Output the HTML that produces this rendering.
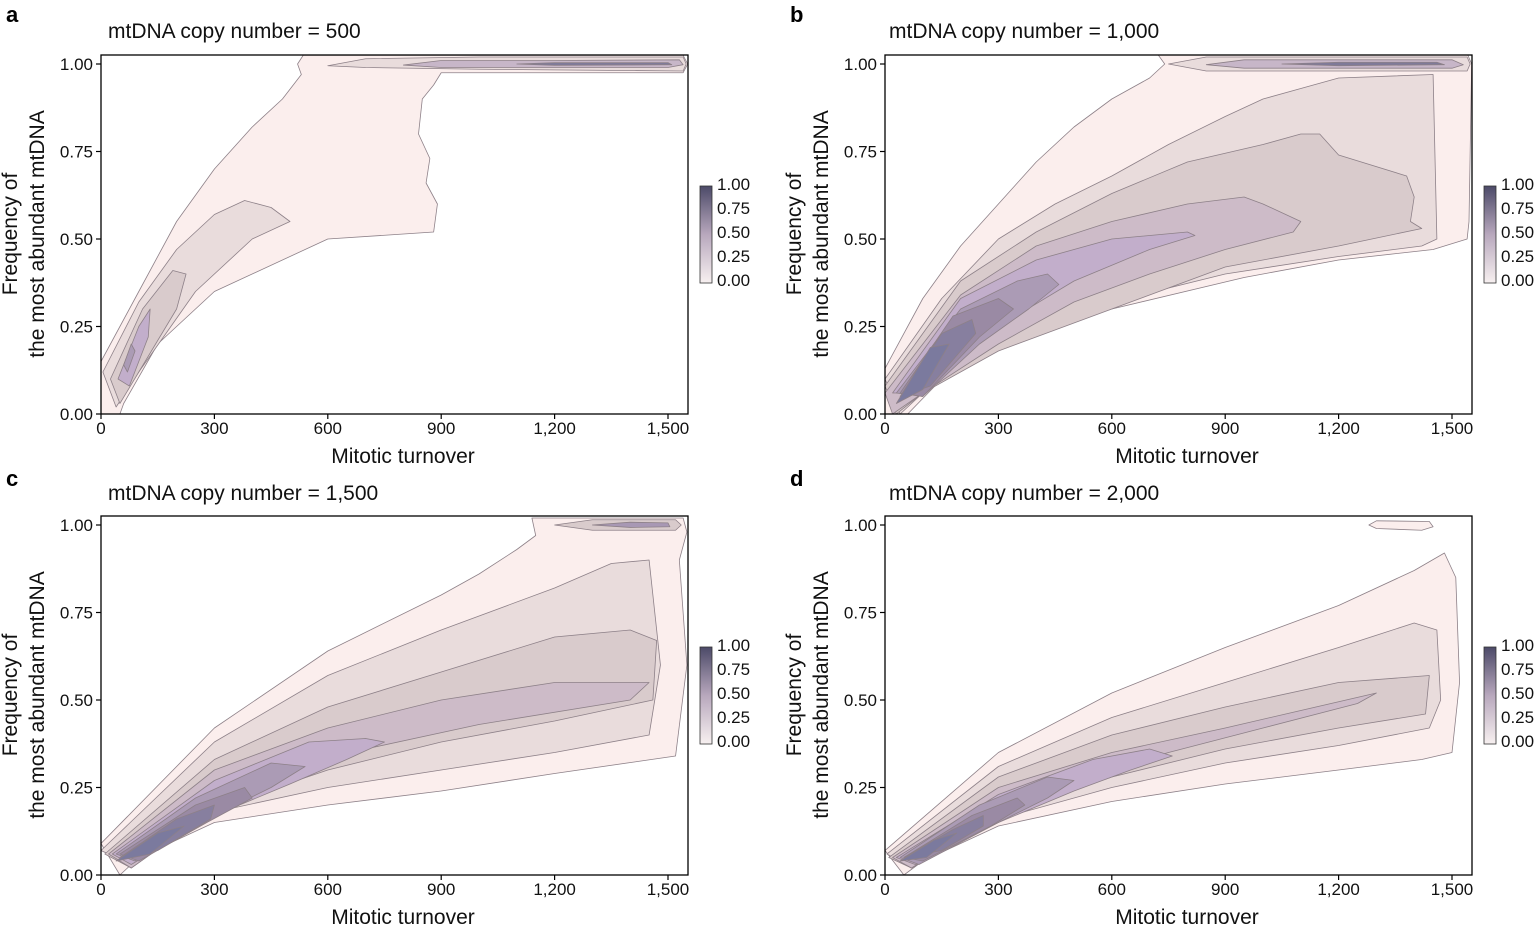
<!DOCTYPE html><html><head><style>body{margin:0;background:#fff}svg{display:block;font-family:"Liberation Sans",sans-serif}</style></head><body>
<svg width="1536" height="928" viewBox="0 0 1536 928" xmlns="http://www.w3.org/2000/svg">
<defs>
<clipPath id="pc"><rect x="0" y="-359" width="587" height="359"/></clipPath>
<linearGradient id="cb" x1="0" y1="1" x2="0" y2="0"><stop offset="0" stop-color="#f7f0f0"/><stop offset="0.5" stop-color="#b8a8bd"/><stop offset="1" stop-color="#4c4a68"/></linearGradient>
<style>.c polygon{stroke:#8d8088;stroke-width:0.8;vector-effect:non-scaling-stroke;stroke-linejoin:round}
.t{font-size:17px;fill:#111}.ti{font-size:21px;fill:#111}.lb{font-size:21px;fill:#111}.ax line{stroke:#000;stroke-width:1.2}</style>
<g id="axes" class="ax">
<rect x="0" y="-359" width="587" height="359" fill="none" stroke="#000" stroke-width="1.3"/>
<line x1="0" y1="0" x2="0" y2="5"/><line x1="113.4" y1="0" x2="113.4" y2="5"/><line x1="226.8" y1="0" x2="226.8" y2="5"/><line x1="340.2" y1="0" x2="340.2" y2="5"/><line x1="453.6" y1="0" x2="453.6" y2="5"/><line x1="567" y1="0" x2="567" y2="5"/>
<line x1="0" y1="0" x2="-5" y2="0"/><line x1="0" y1="-87.5" x2="-5" y2="-87.5"/><line x1="0" y1="-175" x2="-5" y2="-175"/><line x1="0" y1="-262.5" x2="-5" y2="-262.5"/><line x1="0" y1="-350" x2="-5" y2="-350"/>
<g class="t" text-anchor="middle"><text x="0" y="20">0</text><text x="113.4" y="20">300</text><text x="226.8" y="20">600</text><text x="340.2" y="20">900</text><text x="453.6" y="20">1,200</text><text x="567" y="20">1,500</text></g>
<g class="t" text-anchor="end"><text x="-8" y="6">0.00</text><text x="-8" y="-81.5">0.25</text><text x="-8" y="-169">0.50</text><text x="-8" y="-256.5">0.75</text><text x="-8" y="-344">1.00</text></g>
<text class="lb" x="302" y="49" text-anchor="middle">Mitotic turnover</text>
<text class="lb" transform="translate(-84,-180) rotate(-90)" text-anchor="middle">Frequency of</text>
<text class="lb" transform="translate(-57,-180) rotate(-90)" text-anchor="middle">the most abundant mtDNA</text>
<rect x="599" y="-228" width="12" height="97" fill="url(#cb)" stroke="#333" stroke-width="0.8"/>
<g class="t"><text x="616" y="-224">1.00</text><text x="616" y="-200">0.75</text><text x="616" y="-176">0.50</text><text x="616" y="-152">0.25</text><text x="616" y="-128">0.00</text></g>
</g>
</defs>

<!-- Panel a -->
<text x="6" y="22" font-size="22" font-weight="bold">a</text>
<text class="ti" x="108" y="38">mtDNA copy number = 500</text>
<g transform="translate(101,414)">
<g clip-path="url(#pc)"><g class="c" transform="scale(0.378,-350)">
<polygon fill="#fbeeed" points="0,0.15 100,0.35 200,0.55 300,0.7 400,0.82 480,0.9 530,0.97 520,1.0 535,1.025 1540,1.025 1552,1.0 1540,0.975 900,0.975 880,0.94 850,0.9 840,0.8 870,0.73 860,0.66 890,0.6 880,0.52 600,0.5 300,0.35 150,0.2 60,0.03 50,0 0,0"/>
<polygon fill="#e9dcdc" points="600,0.995 700,1.015 1000,1.02 1540,1.02 1548,1.0 1540,0.98 1000,0.985 700,0.99"/>
<polygon fill="#c7b6c8" points="800,0.997 900,1.01 1200,1.01 1530,1.012 1540,0.998 1500,0.99 900,0.99"/>
<polygon fill="#7f7a98" points="1100,1.0 1200,1.004 1500,1.004 1510,0.998 1200,0.996"/>
<polygon fill="#e9dcdc" points="5,0.12 100,0.32 200,0.47 300,0.57 380,0.61 450,0.59 500,0.55 400,0.5 250,0.35 100,0.12 40,0.02"/>
<polygon fill="#d9cbcc" points="25,0.1 110,0.3 190,0.41 225,0.4 200,0.3 100,0.12 50,0.03"/>
<polygon fill="#c2aecb" points="45,0.1 100,0.25 130,0.3 125,0.22 75,0.08"/>
<polygon fill="#ab9bb5" points="60,0.14 80,0.2 90,0.18 70,0.12"/>
</g></g>
<use href="#axes"/>
</g>

<!-- Panel b -->
<text x="790" y="22" font-size="22" font-weight="bold">b</text>
<text class="ti" x="889" y="38">mtDNA copy number = 1,000</text>
<g transform="translate(885,414)">
<g clip-path="url(#pc)"><g class="c" transform="scale(0.378,-350)">
<polygon fill="#fbeeed" points="0,0.13 100,0.33 200,0.48 300,0.6 400,0.72 500,0.82 600,0.9 700,0.96 740,1.0 720,1.03 1540,1.03 1552,1.0 1545,0.55 1540,0.5 1450,0.47 1200,0.44 950,0.39 600,0.3 300,0.2 150,0.1 60,0 0,0"/>
<polygon fill="#e9dcdc" points="0,0.1 150,0.33 300,0.5 450,0.6 600,0.68 750,0.77 900,0.85 1000,0.9 1100,0.93 1200,0.96 1450,0.97 1460,0.5 1420,0.48 1200,0.45 900,0.4 600,0.32 300,0.2 100,0.06 40,0"/>
<polygon fill="#d9cbcc" points="0,0.08 200,0.38 400,0.52 600,0.63 800,0.72 1000,0.77 1100,0.8 1150,0.8 1200,0.74 1380,0.68 1400,0.62 1390,0.55 1420,0.53 1200,0.48 900,0.42 600,0.3 300,0.18 100,0.06 30,0"/>
<polygon fill="#cdbbc8" points="0,0.06 200,0.34 400,0.48 600,0.55 800,0.6 950,0.62 1000,0.6 1100,0.55 1080,0.52 900,0.47 700,0.4 500,0.32 300,0.2 100,0.06 20,0"/>
<polygon fill="#c2aecb" points="20,0.06 200,0.33 400,0.44 600,0.5 800,0.52 820,0.51 700,0.47 500,0.38 300,0.25 100,0.06"/>
<polygon fill="#ab9bb5" points="30,0.06 200,0.3 350,0.38 430,0.4 460,0.37 380,0.3 250,0.2 100,0.05"/>
<polygon fill="#9a8aa4" points="40,0.06 180,0.28 300,0.33 340,0.3 250,0.22 100,0.05"/>
<polygon fill="#877f9f" points="40,0.05 150,0.23 230,0.27 240,0.23 120,0.08"/>
<polygon fill="#7b7a9e" points="30,0.03 120,0.19 170,0.2 100,0.07"/>
<polygon fill="#e9dcdc" points="750,1.0 850,1.02 1540,1.02 1548,1.0 1540,0.98 850,0.98"/>
<polygon fill="#c7b6c8" points="850,0.998 950,1.012 1500,1.012 1530,0.998 1500,0.988 950,0.988"/>
<polygon fill="#7f7a98" points="1050,1.0 1200,1.005 1460,1.005 1480,0.998 1200,0.995"/>
</g></g>
<use href="#axes"/>
</g>

<!-- Panel c -->
<text x="6" y="486" font-size="22" font-weight="bold">c</text>
<text class="ti" x="108" y="500">mtDNA copy number = 1,500</text>
<g transform="translate(101,875)">
<g clip-path="url(#pc)"><g class="c" transform="scale(0.378,-350)">
<polygon fill="#fbeeed" points="0,0.09 300,0.42 600,0.64 900,0.8 1000,0.86 1100,0.93 1150,0.97 1140,1.02 1540,1.02 1550,0.98 1530,0.9 1550,0.6 1520,0.34 1200,0.29 900,0.24 600,0.2 300,0.15 100,0.05 50,0"/>
<polygon fill="#e9dcdc" points="0,0.07 300,0.38 600,0.57 900,0.7 1200,0.82 1350,0.89 1450,0.9 1480,0.6 1450,0.4 1200,0.35 900,0.3 600,0.25 300,0.18 80,0.03"/>
<polygon fill="#d9cbcc" points="10,0.06 300,0.33 600,0.48 900,0.58 1200,0.68 1400,0.7 1470,0.67 1460,0.5 1200,0.44 900,0.38 600,0.3 300,0.19 80,0.02"/>
<polygon fill="#cdbbc8" points="20,0.06 300,0.3 600,0.42 900,0.5 1200,0.55 1450,0.55 1400,0.5 1000,0.43 700,0.36 450,0.26 250,0.15 80,0.02"/>
<polygon fill="#c2aecb" points="30,0.06 300,0.27 550,0.38 700,0.39 750,0.38 650,0.33 500,0.26 300,0.17 80,0.03"/>
<polygon fill="#ab9bb5" points="40,0.06 250,0.22 450,0.32 540,0.31 450,0.25 300,0.17 90,0.04"/>
<polygon fill="#9a8aa4" points="50,0.06 250,0.2 380,0.25 400,0.22 280,0.15 100,0.04"/>
<polygon fill="#877f9f" points="50,0.05 200,0.16 300,0.2 290,0.16 150,0.07"/>
<polygon fill="#7b7a9e" points="40,0.04 150,0.12 220,0.14 130,0.06"/>
<polygon fill="#d9cbcc" points="1200,1.0 1300,1.015 1520,1.015 1535,1.0 1520,0.985 1300,0.985"/>
<polygon fill="#a898b4" points="1300,1.0 1400,1.008 1500,1.006 1505,0.995 1400,0.993"/>
</g></g>
<use href="#axes"/>
</g>

<!-- Panel d -->
<text x="790" y="486" font-size="22" font-weight="bold">d</text>
<text class="ti" x="889" y="500">mtDNA copy number = 2,000</text>
<g transform="translate(885,875)">
<g clip-path="url(#pc)"><g class="c" transform="scale(0.378,-350)">
<polygon fill="#fbeeed" points="0,0.07 300,0.35 600,0.52 900,0.65 1200,0.77 1400,0.87 1480,0.92 1510,0.85 1520,0.55 1500,0.35 1420,0.33 1200,0.3 900,0.26 600,0.21 300,0.14 100,0.04 50,0"/>
<polygon fill="#e9dcdc" points="5,0.06 300,0.31 600,0.45 900,0.55 1200,0.65 1400,0.72 1460,0.7 1470,0.5 1440,0.42 1200,0.37 900,0.32 600,0.25 300,0.16 70,0.02"/>
<polygon fill="#d9cbcc" points="10,0.05 300,0.28 600,0.4 900,0.48 1200,0.55 1440,0.57 1430,0.46 1200,0.42 900,0.36 600,0.28 300,0.17 70,0.02"/>
<polygon fill="#cdbbc8" points="20,0.05 300,0.25 600,0.35 900,0.42 1100,0.47 1300,0.52 1250,0.49 1000,0.42 750,0.35 500,0.27 250,0.14 70,0.02"/>
<polygon fill="#c2aecb" points="30,0.05 300,0.23 550,0.33 700,0.36 760,0.34 650,0.3 500,0.24 300,0.15 80,0.03"/>
<polygon fill="#ab9bb5" points="40,0.05 250,0.2 430,0.28 500,0.27 430,0.22 300,0.15 90,0.03"/>
<polygon fill="#9a8aa4" points="50,0.05 230,0.17 350,0.22 370,0.2 280,0.14 100,0.04"/>
<polygon fill="#877f9f" points="50,0.05 180,0.13 260,0.17 260,0.14 150,0.07"/>
<polygon fill="#7b7a9e" points="40,0.04 130,0.1 190,0.12 110,0.05"/>
<polygon fill="#fbeeed" points="1280,1.0 1300,1.012 1440,1.01 1450,0.995 1420,0.985 1300,0.99"/>
</g></g>
<use href="#axes"/>
</g>
</svg>
</body></html>
